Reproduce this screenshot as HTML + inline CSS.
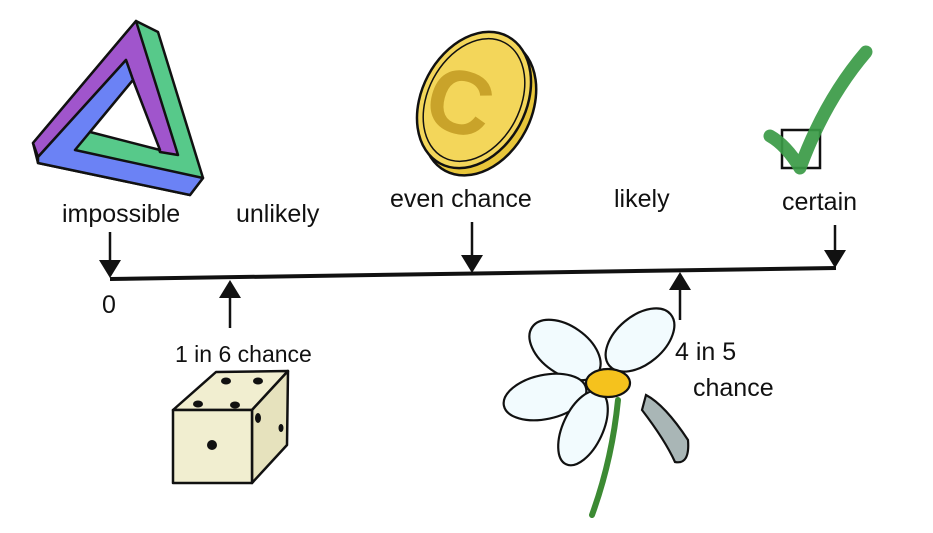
<!DOCTYPE html>
<html><head><meta charset="utf-8"><style>
html,body{margin:0;padding:0;background:#fff;width:933px;height:533px;overflow:hidden}
text{font-family:"Liberation Sans",sans-serif;fill:#111}
</style></head><body>
<svg width="933" height="533" viewBox="0 0 933 533" xmlns="http://www.w3.org/2000/svg">
<g stroke="#111" stroke-width="2.5" stroke-linejoin="round">
<polygon points="136,21 158,32 203,178 190,195 38,163 33,143" fill="#57c98a"/>
<polygon points="33,143 136,21 178,155 160,152 133,80 126,60 38,157" fill="#a055cc"/>
<polygon points="38,157 126,60 133,80 75,150 203,178 190,195 38,163" fill="#6b82f5"/>
<polygon points="133,80 160,150 90,132" fill="#fff"/>
</g>
<g transform="rotate(28 474 100)" stroke="#111" stroke-width="2.5">
<ellipse cx="482" cy="104" rx="52" ry="72" fill="#e8c63a"/>
<ellipse cx="474" cy="100" rx="52" ry="72" fill="#f3d65a"/>
<ellipse cx="474" cy="100" rx="46" ry="65" fill="none" stroke-width="1.5"/>
</g>
<text x="428" y="133" font-size="90" font-weight="bold" style="fill:#c9a32a" transform="rotate(15 460 100)">C</text>
<rect x="782" y="130" width="38" height="38" fill="none" stroke="#111" stroke-width="2.5"/>
<path d="M770,136 Q786,145 800,168 Q825,100 866,52" stroke="#3a9a45" stroke-width="13" fill="none" stroke-linecap="round" stroke-linejoin="round" opacity="0.92"/>
<g stroke="#111" stroke-width="2.5" stroke-linejoin="round">
<polygon points="173,410 216,372 288,371 252,410" fill="#f1eed0"/>
<polygon points="252,410 288,371 287,445 252,483" fill="#e6e2bd"/>
<rect x="173" y="410" width="79" height="73" fill="#f1eed0"/>
</g>
<g fill="#111">
<ellipse cx="226" cy="381" rx="5" ry="3.5"/><ellipse cx="258" cy="381" rx="5" ry="3.5"/>
<ellipse cx="198" cy="404" rx="5" ry="3.5"/><ellipse cx="235" cy="405" rx="5" ry="3.5"/>
<ellipse cx="212" cy="445" rx="5" ry="5"/><ellipse cx="258" cy="418" rx="3" ry="5"/><ellipse cx="281" cy="428" rx="2.5" ry="4"/>
</g>
<path d="M618,400 Q612,460 592,515" stroke="#3c8a33" stroke-width="6" fill="none" stroke-linecap="round"/>
<g stroke="#111" stroke-width="2.2" fill="#f2fbfe">
<ellipse cx="565" cy="350" rx="40" ry="24" transform="rotate(35 565 350)"/>
<ellipse cx="640" cy="340" rx="40" ry="24" transform="rotate(-40 640 340)"/>
<ellipse cx="545" cy="397" rx="42" ry="22" transform="rotate(-12 545 397)"/>
<ellipse cx="583" cy="428" rx="40" ry="20" transform="rotate(-65 583 428)"/>
<ellipse cx="608" cy="383" rx="22" ry="14" fill="#f5c21d"/>
<path d="M646,395 Q665,405 688,440 Q690,465 675,462 Q665,440 642,410 Z" fill="#a9b6b6"/>
</g>
<path d="M110,279 L836,268" stroke="#111" stroke-width="4"/>
<g stroke="#111" stroke-width="2.5">
<line x1="110" y1="232" x2="110" y2="262"/><line x1="472" y1="222" x2="472" y2="258"/><line x1="835" y1="225" x2="835" y2="252"/>
<line x1="230" y1="295" x2="230" y2="328"/><line x1="680" y1="288" x2="680" y2="320"/>
</g>
<g fill="#111">
<polygon points="99,260 121,260 110,278"/><polygon points="461,255 483,255 472,273"/><polygon points="824,250 846,250 835,268"/>
<polygon points="219,298 241,298 230,280"/><polygon points="669,290 691,290 680,272"/>
</g>
<g font-size="25">
<text x="62" y="222">impossible</text>
<text x="236" y="222">unlikely</text>
<text x="390" y="207">even chance</text>
<text x="614" y="207">likely</text>
<text x="782" y="210">certain</text>
<text x="102" y="313">0</text>
<text x="175" y="362" font-size="23">1 in 6 chance</text>
<text x="675" y="360">4 in 5</text>
<text x="693" y="396">chance</text>
</g>
</svg>
</body></html>
